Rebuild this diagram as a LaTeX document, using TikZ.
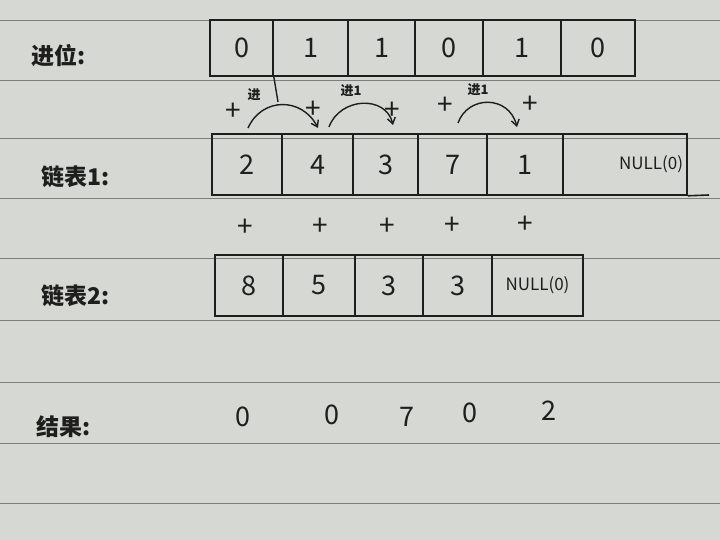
\documentclass[tikz,border=0pt]{standalone}
\usepackage{fontspec}
\setmainfont{Noto Sans CJK SC}
\usetikzlibrary{arrows.meta}
\definecolor{paper}{RGB}{214,216,211}
\definecolor{rulec}{RGB}{125,127,125}
\definecolor{ink}{RGB}{30,30,30}
\begin{document}
\begin{tikzpicture}[x=1pt,y=-1pt,
  cell/.style={draw=ink, line width=1.6pt, inner sep=0pt, text=ink, font=\fontsize{27}{27}\selectfont},
  lbl/.style={text=ink, anchor=west, font=\fontsize{23}{23}\selectfont\bfseries},
  plus/.style={text=ink, font=\fontsize{28}{28}\selectfont},
  small/.style={text=ink, font=\fontsize{13}{13}\selectfont\bfseries},
  res/.style={text=ink, font=\fontsize{27}{27}\selectfont},
  nul/.style={font=\fontsize{17}{17}\selectfont},
  carry/.style={draw=ink, line width=1.4pt, -{Straight Barb[length=6pt,width=8pt]}},
  rulel/.style={draw=rulec, line width=0.8pt}]
\useasboundingbox (0,0) rectangle (720,540);
\fill[paper] (0,0) rectangle (720,540);
\foreach \yy in {20,80,138,198,258,320,382,443,503}
  \draw[rulel] (0,\yy) -- (720,\yy);

% labels
\node[lbl] (l1) at (28,56) {进位:};
\node[lbl] (l2) at (38,177) {链表1:};
\node[lbl] (l3) at (38,296) {链表2:};
\node[lbl] (l4) at (33,427) {结果:};

% row 1: carries
\node[cell, minimum width=63, minimum height=56] (a1) at (241.5,48) {0};
\node[cell, minimum width=75, minimum height=56] (a2) at (310.5,48) {1};
\node[cell, minimum width=67, minimum height=56] (a3) at (381.5,48) {1};
\node[cell, minimum width=68, minimum height=56] (a4) at (449,48) {0};
\node[cell, minimum width=78, minimum height=56] (a5) at (522,48) {1};
\node[cell, minimum width=74, minimum height=56] (a6) at (598,48) {0};
\coordinate (a1x) at (278,102);
\draw[ink, line width=1.4pt] (a1.south east) -- (a1x);

% row 2: list 1
\node[cell, minimum width=70, minimum height=61] (b1) at (247,164.5) {2};
\node[cell, minimum width=71, minimum height=61] (b2) at (317.5,164.5) {4};
\node[cell, minimum width=65, minimum height=61] (b3) at (385.5,164.5) {3};
\node[cell, minimum width=69, minimum height=61] (b4) at (452.5,164.5) {7};
\node[cell, minimum width=76, minimum height=61] (b5) at (525,164.5) {1};
\node[cell, minimum width=124, minimum height=61, text width=116, align=right, nul] (b6) at (625,164.5) {NULL(0)};
\coordinate (b6x) at (709,195);
\draw[ink, line width=1.6pt] (b6.south east) -- (b6x);

% row 3: list 2
\node[cell, minimum width=68, minimum height=61] (c1) at (249,285.5) {8};
\node[cell, minimum width=72, minimum height=61] (c2) at (319,285.5) {5};
\node[cell, minimum width=68, minimum height=61] (c3) at (389,285.5) {3};
\node[cell, minimum width=69, minimum height=61] (c4) at (457.5,285.5) {3};
\node[cell, minimum width=91, minimum height=61, nul] (c5) at (537.5,285.5) {NULL(0)};

% plus signs above list 1
\node[plus] (p1) at (233,112) {+};
\node[plus] (p2) at (313,110) {+};
\node[plus] (p3) at (392,111) {+};
\node[plus] (p4) at (445,106) {+};
\node[plus] (p5) at (530,105) {+};

% carry arcs
\coordinate (k1s) at (248,128); \coordinate (k1e) at (318,128);
\coordinate (k2s) at (329,127); \coordinate (k2e) at (393,125);
\coordinate (k3s) at (458,123); \coordinate (k3e) at (517,127);
\draw[carry] (k1s) .. controls (262,97) and (302,97) .. (k1e);
\draw[carry] (k2s) .. controls (340,97) and (386,95) .. (k2e);
\draw[carry] (k3s) .. controls (468,95) and (509,95) .. (k3e);
\node[small] (t1) at (254,95) {进};
\node[small] (t2) at (351,91) {进1};
\node[small] (t3) at (478,90) {进1};

% plus signs between the lists
\node[plus] (q1) at (245,228) {+};
\node[plus] (q2) at (320,227) {+};
\node[plus] (q3) at (387,227) {+};
\node[plus] (q4) at (452,226) {+};
\node[plus] (q5) at (525,225) {+};

% result
\node[res] (r1) at (243,417) {0};
\node[res] (r2) at (332,415) {0};
\node[res] (r3) at (407,417) {7};
\node[res] (r4) at (470,413) {0};
\node[res] (r5) at (549,411) {2};
\end{tikzpicture}
\end{document}
